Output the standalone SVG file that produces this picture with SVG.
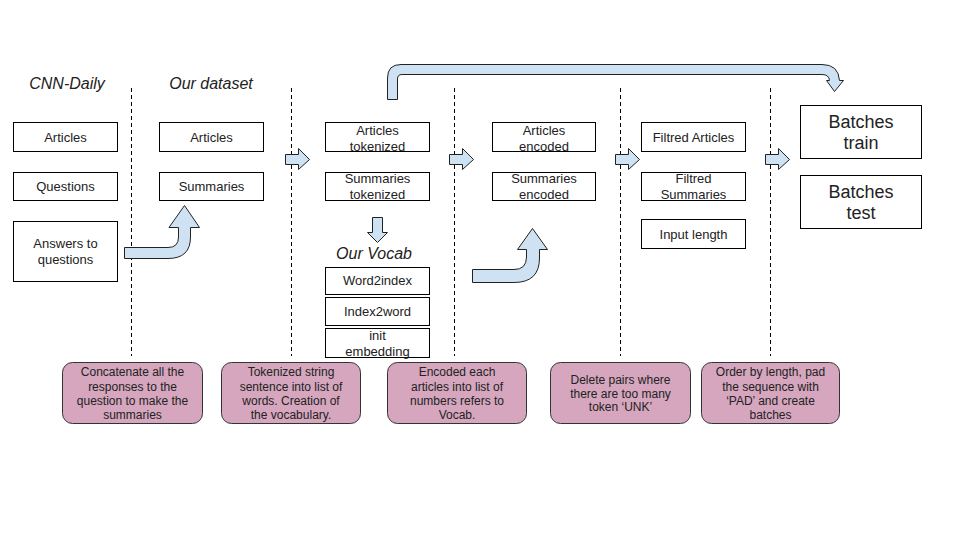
<svg xmlns="http://www.w3.org/2000/svg" width="960" height="540" viewBox="0 0 960 540">
<style>
text{font-family:"Liberation Sans",Arial,sans-serif;fill:#222;text-anchor:middle}
.t{font-size:13px}
.h{font-size:16px;font-style:italic}
.b{font-size:18px}
.n{font-size:12px}
.box{fill:#fff;stroke:#000;stroke-width:1}
.pink{fill:#d5a6bd;stroke:#333;stroke-width:1}
.arr{fill:#cfe2f3;stroke:#222;stroke-width:1;stroke-linejoin:miter}
.dash{stroke:#000;stroke-width:1;stroke-dasharray:4,3;fill:none}
</style>
<rect width="960" height="540" fill="#fff"/>
<g id="dividers">
<line class="dash" x1="131.5" y1="88" x2="131.5" y2="356"/>
<line class="dash" x1="291.5" y1="88" x2="291.5" y2="356"/>
<line class="dash" x1="454.5" y1="88" x2="454.5" y2="356"/>
<line class="dash" x1="620.5" y1="88" x2="620.5" y2="356"/>
<line class="dash" x1="770.5" y1="88" x2="770.5" y2="356"/>
</g>
<g id="titles">
<text class="h" x="67" y="89">CNN-Daily</text>
<text class="h" x="211" y="89">Our dataset</text>
<text class="h" x="374" y="259">Our Vocab</text>
</g>
<g id="cnn-articles"><rect class="box" x="13.5" y="122.5" width="104" height="29"/><text class="t" x="65.5" y="142">Articles</text></g>
<g id="cnn-questions"><rect class="box" x="13.5" y="172.5" width="104" height="28"/><text class="t" x="65.5" y="191">Questions</text></g>
<g id="cnn-answers"><rect class="box" x="13.5" y="221.5" width="104" height="60"/><text class="t" x="65.5" y="248">Answers to</text><text class="t" x="65.5" y="264">questions</text></g>
<g id="ds-articles"><rect class="box" x="159.5" y="122.5" width="104" height="29"/><text class="t" x="211.5" y="142">Articles</text></g>
<g id="ds-summaries"><rect class="box" x="159.5" y="172.5" width="104" height="28"/><text class="t" x="211.5" y="191">Summaries</text></g>
<g id="tok-articles"><rect class="box" x="325.5" y="122.5" width="104" height="29"/><text class="t" x="377.5" y="135">Articles</text><text class="t" x="377.5" y="151">tokenized</text></g>
<g id="tok-summaries"><rect class="box" x="325.5" y="172.5" width="104" height="28"/><text class="t" x="377.5" y="183">Summaries</text><text class="t" x="377.5" y="199">tokenized</text></g>
<g id="word2index"><rect class="box" x="325.5" y="267.5" width="104" height="27"/><text class="t" x="377.5" y="285">Word2index</text></g>
<g id="index2word"><rect class="box" x="325.5" y="297.5" width="104" height="28"/><text class="t" x="377.5" y="316">Index2word</text></g>
<g id="init-embedding"><rect class="box" x="325.5" y="328.5" width="104" height="29"/><text class="t" x="377.5" y="340">init</text><text class="t" x="377.5" y="356">embedding</text></g>
<g id="enc-articles"><rect class="box" x="492.5" y="122.5" width="103" height="29"/><text class="t" x="544" y="135">Articles</text><text class="t" x="544" y="151">encoded</text></g>
<g id="enc-summaries"><rect class="box" x="492.5" y="172.5" width="103" height="28"/><text class="t" x="544" y="183">Summaries</text><text class="t" x="544" y="199">encoded</text></g>
<g id="filt-articles"><rect class="box" x="641.5" y="122.5" width="104" height="29"/><text class="t" x="693.5" y="142">Filtred Articles</text></g>
<g id="filt-summaries"><rect class="box" x="641.5" y="172.5" width="104" height="28"/><text class="t" x="693.5" y="183">Filtred</text><text class="t" x="693.5" y="199">Summaries</text></g>
<g id="input-length"><rect class="box" x="641.5" y="219.5" width="104" height="29"/><text class="t" x="693.5" y="239">Input length</text></g>
<g id="batches-train"><rect class="box" x="800.5" y="105.5" width="121" height="53"/><text class="b" x="861" y="128">Batches</text><text class="b" x="861" y="149">train</text></g>
<g id="batches-test"><rect class="box" x="800.5" y="175.5" width="121" height="53"/><text class="b" x="861" y="198">Batches</text><text class="b" x="861" y="219">test</text></g>
<g id="note-concat"><rect class="pink" x="62.5" y="362.5" width="140" height="61" rx="10"/><text class="n" x="132.5" y="376">Concatenate all the</text><text class="n" x="132.5" y="391">responses to the</text><text class="n" x="132.5" y="405">question to make the</text><text class="n" x="132.5" y="419">summaries</text></g>
<g id="note-tokenize"><rect class="pink" x="221.5" y="362.5" width="139" height="61" rx="10"/><text class="n" x="291" y="376">Tokenized string</text><text class="n" x="291" y="391">sentence into list of</text><text class="n" x="291" y="405">words. Creation of</text><text class="n" x="291" y="419">the vocabulary.</text></g>
<g id="note-encode"><rect class="pink" x="387.5" y="362.5" width="139" height="61" rx="10"/><text class="n" x="457" y="376">Encoded each</text><text class="n" x="457" y="391">articles into list of</text><text class="n" x="457" y="405">numbers refers to</text><text class="n" x="457" y="419">Vocab.</text></g>
<g id="note-filter"><rect class="pink" x="550.5" y="362.5" width="140" height="61" rx="10"/><text class="n" x="620.5" y="384">Delete pairs where</text><text class="n" x="620.5" y="398">there are too many</text><text class="n" x="620.5" y="411">token ‘UNK’</text></g>
<g id="note-batch"><rect class="pink" x="701.5" y="362.5" width="138" height="61" rx="10"/><text class="n" x="770.5" y="376">Order by length, pad</text><text class="n" x="770.5" y="391">the sequence with</text><text class="n" x="770.5" y="405">‘PAD’ and create</text><text class="n" x="770.5" y="419">batches</text></g>
<g id="connectors">
<path class="arr" d="M124.5,247.5 L168,247.5 Q178.5,247.5 178.5,237 L178.5,227.5 L169,227.5 L184.5,205.5 L199.5,227.5 L190.5,227.5 L190.5,237 Q190.5,258.5 168,258.5 L124.5,258.5 Z"/>
<path class="arr" d="M472.5,269.5 L514,269.5 Q526.5,269.5 526.5,257 L526.5,249.5 L517.5,249.5 L532.5,228.5 L547.5,249.5 L539.5,249.5 L539.5,258 Q539.5,282.5 514,282.5 L472.5,282.5 Z"/>
<path class="arr" d="M387.5,99.5 L387.5,78 Q387.5,64.5 401,64.5 L822,64.5 Q838.5,64.5 839.5,80.5 L843.5,80.5 L834.5,91.5 L826.5,80.5 L829.5,80.5 Q829,74.5 822,74.5 L402,74.5 Q397.5,74.5 397.5,79 L397.5,99.5 Z"/>
<path class="arr" d="M285.5,154.5 L298.5,154.5 L298.5,148.5 L309.5,159.5 L298.5,169.5 L298.5,164.5 L285.5,164.5 Z"/>
<path class="arr" d="M449.5,154.5 L462.5,154.5 L462.5,148.5 L473.5,159.5 L462.5,169.5 L462.5,164.5 L449.5,164.5 Z"/>
<path class="arr" d="M615.5,154.5 L628.5,154.5 L628.5,148.5 L639.5,159.5 L628.5,169.5 L628.5,164.5 L615.5,164.5 Z"/>
<path class="arr" d="M765.5,154.5 L778.5,154.5 L778.5,148.5 L789.5,159.5 L778.5,169.5 L778.5,164.5 L765.5,164.5 Z"/>
<path class="arr" d="M372.5,217.5 L382.5,217.5 L382.5,232.5 L387.5,232.5 L377.5,242.5 L367.5,232.5 L372.5,232.5 Z"/>
</g>
</svg>
